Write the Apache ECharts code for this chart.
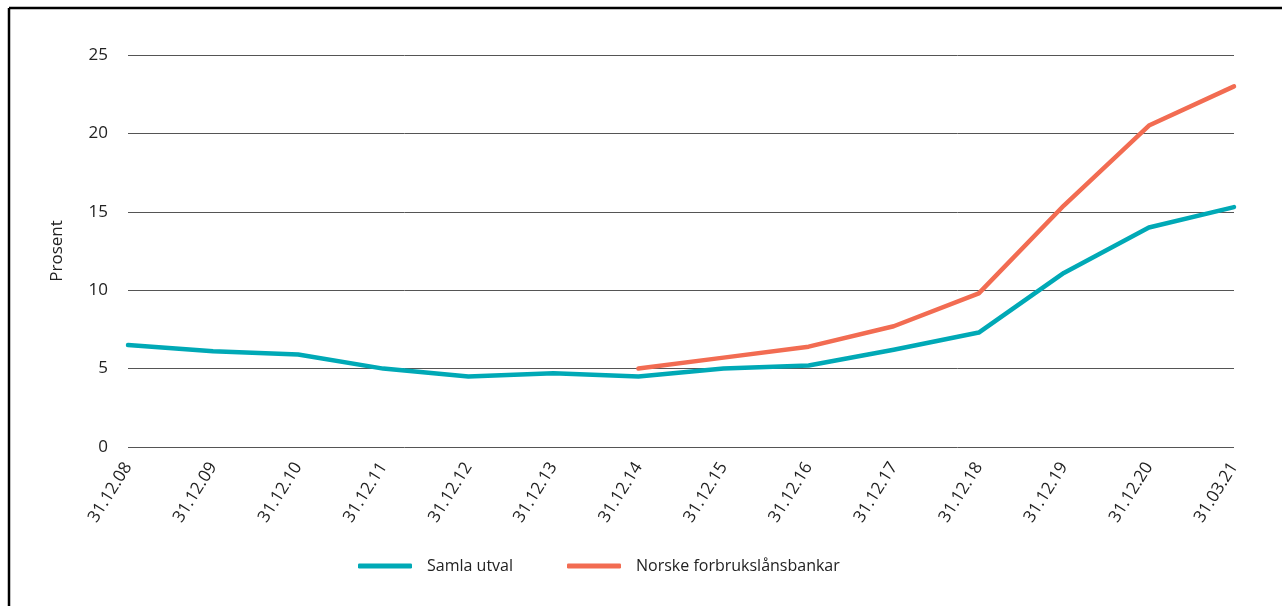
<!DOCTYPE html>
<html>
<head>
<meta charset="utf-8">
<script src="https://cdn.jsdelivr.net/npm/echarts@6/dist/echarts.min.js"></script>
<style>
html,body{margin:0;padding:0;background:#fff;}
#chart{width:1282px;height:606px;}
</style>
</head>
<body>
<div id="chart"></div>
<script>
const categories = ['31.12.08','31.12.09','31.12.10','31.12.11','31.12.12','31.12.13','31.12.14','31.12.15','31.12.16','31.12.17','31.12.18','31.12.19','31.12.20','31.03.21'];
const samlaUtval = [6.5, 6.1, 5.9, 5.0, 4.5, 4.7, 4.5, 5.0, 5.2, 6.2, 7.3, 11.1, 14.0, 15.3];
const norskeForbruk = [null, null, null, null, null, null, 5.0, 5.7, 6.4, 7.7, 9.8, 15.4, 20.5, 23.0];
const yTicks = [0, 5, 10, 15, 20, 25];

const FONT = "'Open Sans', 'Noto Sans', sans-serif";
const chart = echarts.init(document.getElementById('chart'), null, {renderer: 'canvas'});
chart.setOption({
  backgroundColor: '#fff',
  animation: false,
  graphic: [
    {type: 'line', shape: {x1: 9, y1: 8, x2: 1282, y2: 8}, style: {stroke: '#000', lineWidth: 2.5}},
    {type: 'line', shape: {x1: 9, y1: 8, x2: 9, y2: 606}, style: {stroke: '#000', lineWidth: 2.5}}
  ],
  grid: {left: 128, right: 48, top: 55, height: 392, containLabel: false},
  legend: {
    left: 353,
    top: 553,
    itemWidth: 54,
    itemHeight: 5,
    itemGap: 54,
    icon: 'roundRect',
    textStyle: {fontFamily: FONT, fontSize: 16, color: '#222', padding: [0, 0, 0, 10]},
    data: ['Samla utval', 'Norske forbrukslånsbankar']
  },
  xAxis: {
    type: 'category',
    data: categories,
    boundaryGap: false,
    axisLine: {show: false},
    axisTick: {show: false},
    axisLabel: {rotate: 58, margin: 17, fontFamily: FONT, fontSize: 17, color: '#222', interval: 0}
  },
  yAxis: {
    type: 'value',
    min: 0,
    max: 25,
    interval: 5,
    name: 'Prosent',
    nameLocation: 'middle',
    nameGap: 62,
    nameTextStyle: {fontFamily: FONT, fontSize: 17, color: '#222'},
    axisLine: {show: false},
    axisTick: {show: false},
    axisLabel: {
      margin: 20, fontFamily: FONT, fontSize: 17, color: '#222',
      formatter: v => yTicks.includes(v) ? String(v) : ''
    },
    splitLine: {show: true, lineStyle: {color: '#555', width: 1}}
  },
  series: [
    {
      name: 'Samla utval', type: 'line', data: samlaUtval,
      showSymbol: false, symbol: 'none',
      lineStyle: {color: '#00a9b6', width: 4.5, cap: 'round', join: 'round'},
      itemStyle: {color: '#00a9b6'}
    },
    {
      name: 'Norske forbrukslånsbankar', type: 'line', data: norskeForbruk,
      showSymbol: false, symbol: 'none',
      lineStyle: {color: '#f26c52', width: 4.5, cap: 'round', join: 'round'},
      itemStyle: {color: '#f26c52'}
    }
  ]
});
</script>
</body>
</html>
